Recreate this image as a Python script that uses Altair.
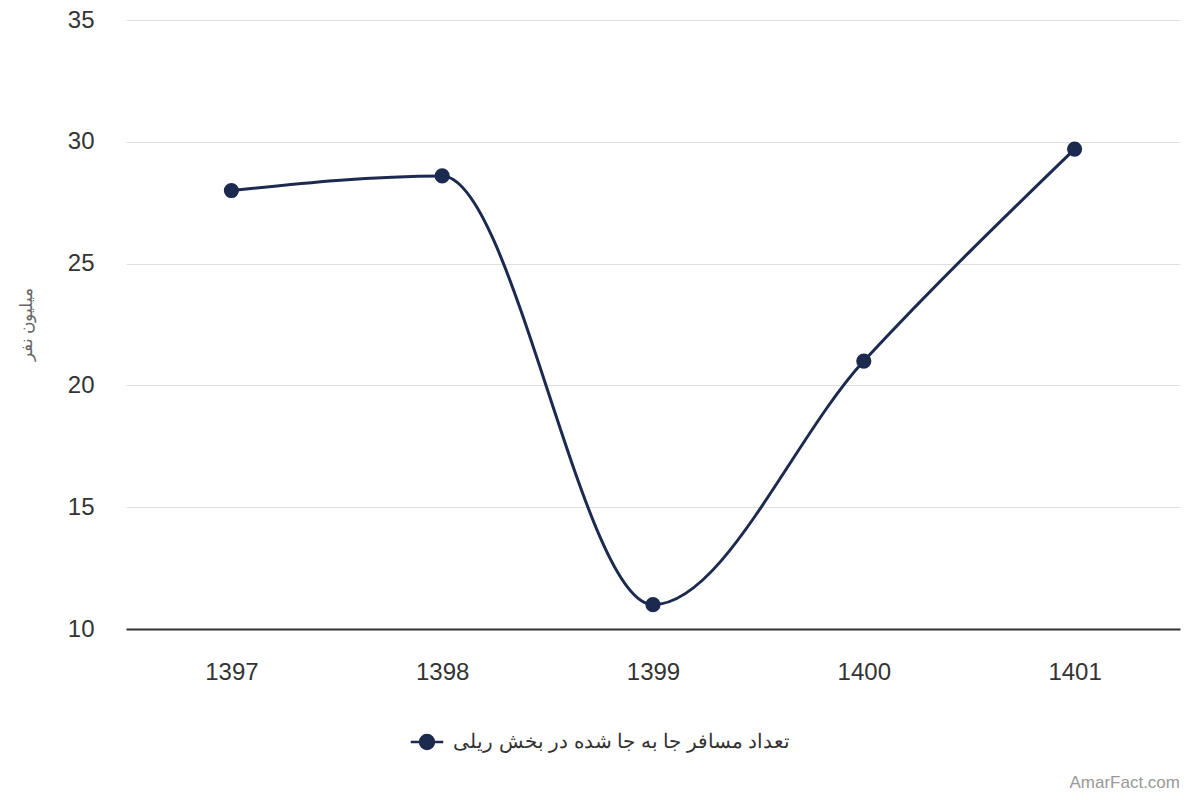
import pandas as pd
import altair as alt

# ── Data ───────────────────────────────────────────────────────────────────────

YEARS = ['1397', '1398', '1399', '1400', '1401']
PASSENGERS = [28.0, 28.6, 11.0, 21.0, 29.7]
SERIES = 'تعداد مسافر جا به جا شده در بخش ریلی'
Y_TITLE = 'میلیون نفر'
Y_TICKS = [10, 15, 20, 25, 30, 35]
CREDIT = ['AmarFact.com']

NAVY = '#1c2a4f'
FONT = 'Liberation Sans'

df = pd.DataFrame({'year': YEARS, 'value': PASSENGERS, 'series': SERIES})

# ── Chart ──────────────────────────────────────────────────────────────────────

x = alt.X(
    'year:O', title=None,
    scale=alt.Scale(type='point', padding=0.5),
    axis=alt.Axis(labelAngle=0, labelFontSize=24, labelColor='#333333',
                  labelPadding=31, ticks=False, domainColor='#333333',
                  domainWidth=2, grid=False, labelFont=FONT),
)
y = alt.Y(
    'value:Q',
    scale=alt.Scale(domain=[10, 35], nice=False, zero=False),
    axis=alt.Axis(values=Y_TICKS, labelFontSize=24, labelColor='#333333',
                  labelPadding=32, ticks=False, tickSize=0, domain=False,
                  gridColor='#e0e0e0', labelFont=FONT,
                  title=Y_TITLE, titleFontSize=17, titleColor='#666666',
                  titleFontWeight='normal', titleX=-91, titleY=304,
                  titleAngle=270),
)
color = alt.Color(
    'series:N', scale=alt.Scale(range=[NAVY]),
    legend=alt.Legend(
        title=None, orient='none', legendX=288, legendY=709, padding=0,
        labelFontSize=20, labelColor='#333333', labelFont=FONT, labelLimit=0,
        symbolType='M-1.4,0L1.4,0M-0.6,0A0.6,0.6,0,1,1,0.6,0A0.6,0.6,0,1,1,-0.6,0Z',
        symbolSize=540, symbolStrokeWidth=2.5, symbolFillColor=NAVY,
        symbolStrokeColor=NAVY, labelOffset=13,
    ),
)

line = alt.Chart(df).mark_line(
    interpolate='monotone', strokeWidth=3, color=NAVY
).encode(x=x, y=y, color=color)

dots = alt.Chart(df).mark_point(
    filled=True, size=230, opacity=1, color=NAVY
).encode(x=x, y=y, color=alt.Color('series:N', legend=None))

credit = alt.Chart(pd.DataFrame({'t': CREDIT})).mark_text(
    align='right', baseline='middle', fontSize=17, color='#999999', font=FONT
).encode(text='t:N', x=alt.value(1054), y=alt.value(763))

chart = (
    (line + dots + credit)
    .properties(
        width=1054, height=609,
        autosize=alt.AutoSizeParams(type='none'),
        padding={'left': 118, 'top': 12, 'right': 12, 'bottom': 170},
    )
    .configure_view(stroke=None)
)

chart.save('out.html', embed_options={'renderer': 'svg', 'actions': False})
